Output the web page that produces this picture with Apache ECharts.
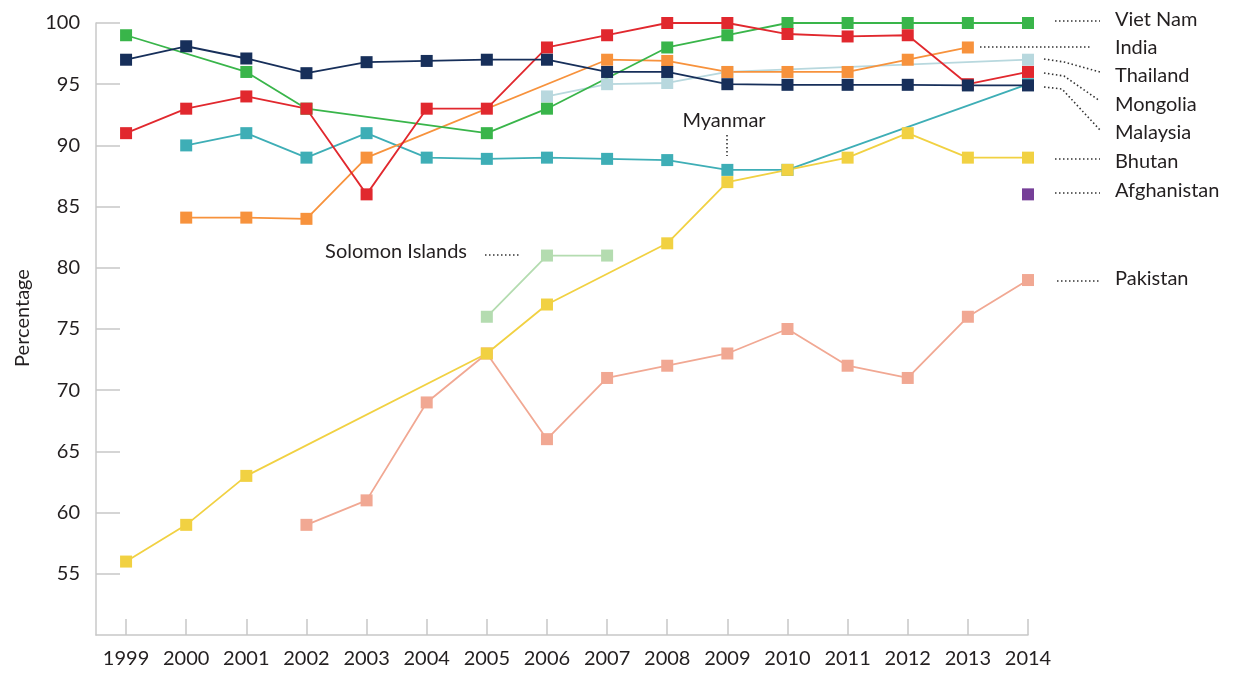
<!DOCTYPE html>
<html>
<head>
<meta charset="utf-8">
<script src="https://cdn.jsdelivr.net/npm/echarts@6/dist/echarts.min.js"></script>
<style>
  html, body { margin: 0; padding: 0; background: #fff; }
  #chart { width: 1236px; height: 675px; }
</style>
</head>
<body>
<div id="chart"></div>
<script>
const years = [1999, 2000, 2001, 2002, 2003, 2004, 2005, 2006, 2007, 2008, 2009, 2010, 2011, 2012, 2013, 2014]
const yTicks = [55, 60, 65, 70, 75, 80, 85, 90, 95, 100]

// values per country, one per year (null = no data)
const pakistan = [null, null, null, 59, 61, 69, 73, 66, 71, 72, 73, 75, 72, 71, 76, 79]
const solomonIslands = [null, null, null, null, null, null, 76, 81, 81, null, null, null, null, null, null, null]
const afghanistan = [null, null, null, null, null, null, null, null, null, null, null, null, null, null, null, 86]
const myanmar = [null, 90, 91, 89, 91, 89, 88.9, 89, 88.9, 88.8, 88, 88, null, null, null, 95]
const bhutan = [56, 59, 63, null, null, null, 73, 77, null, 82, 87, 88, 89, 91, 89, 89]
const thailand = [null, null, null, null, null, null, null, 94, 95, 95.1, 96, null, null, null, null, 97]
const india = [null, 84.1, 84.1, 84, 89, null, null, null, 97, 96.9, 96, 96, 96, 97, 98, null]
const vietNam = [99, null, 96, 93, null, null, 91, 93, null, 98, 99, 100, 100, 100, 100, 100]
const mongolia = [91, 93, 94, 93, 86, 93, 93, 98, 99, 100, 100, 99.1, 98.9, 99, 95, 96]
const malaysia = [97, 98.1, 97.1, 95.9, 96.8, 96.9, 97, 97, 96, 96, 95, 94.95, 94.95, 94.95, 94.9, 94.9]

const countries = [
  { name: 'Pakistan', values: pakistan, color: '#f1a893' },
  { name: 'Solomon Islands', values: solomonIslands, color: '#b4dcb0' },
  { name: 'Afghanistan', values: afghanistan, color: '#763f98' },
  { name: 'Myanmar', values: myanmar, color: '#3eaeb6' },
  { name: 'Bhutan', values: bhutan, color: '#f1d142' },
  { name: 'Thailand', values: thailand, color: '#b8d8de' },
  { name: 'India', values: india, color: '#f7923c' },
  { name: 'Viet Nam', values: vietNam, color: '#39b54a' },
  { name: 'Mongolia', values: mongolia, color: '#e1282e' },
  { name: 'Malaysia', values: malaysia, color: '#172f5a' }
]

const font = 'Lato'
const textColor = '#231f20'
const axisColor = '#c8c8c8'
const dotted = { stroke: '#333', lineWidth: 1.6, lineDash: [1.5, 2.5], fill: null }

function label (text, x, y, align) {
  return {
    type: 'text',
    x: x,
    y: y,
    silent: true,
    style: { text: text, fill: textColor, font: '20px ' + font, align: align || 'left', verticalAlign: 'middle' }
  }
}
function leader (points) {
  return { type: 'polyline', silent: true, shape: { points: points }, style: dotted }
}

const chart = echarts.init(document.getElementById('chart'))
chart.setOption({
  animation: false,
  textStyle: { fontFamily: font },
  grid: { left: 96, right: 208, top: 23, bottom: 40 },
  xAxis: {
    type: 'value',
    min: 1998.5,
    max: 2014,
    splitLine: { show: false },
    axisLine: { lineStyle: { color: axisColor, width: 1.5 } },
    axisTick: { inside: true, length: 16, customValues: years, lineStyle: { color: axisColor, width: 1.5 } },
    axisLabel: { customValues: years, color: textColor, fontSize: 20, margin: 14, formatter: v => String(v) }
  },
  yAxis: {
    type: 'value',
    min: 50,
    max: 100,
    splitLine: { show: false },
    axisLine: { show: true, lineStyle: { color: axisColor, width: 1.5 } },
    axisTick: { show: true, inside: true, length: 24, customValues: yTicks, lineStyle: { color: axisColor, width: 1.5 } },
    axisLabel: { customValues: yTicks, color: textColor, fontSize: 20, margin: 16 }
  },
  series: countries.map(c => ({
    name: c.name,
    type: 'line',
    symbol: 'rect',
    symbolSize: 12,
    color: c.color,
    lineStyle: { width: 1.8, color: c.color },
    itemStyle: { color: c.color },
    emphasis: { disabled: true },
    data: years.map((y, i) => [y, c.values[i]]).filter(d => d[1] !== null)
  })),
  graphic: [
    {
      type: 'text', x: 23, y: 318, rotation: Math.PI / 2, silent: true,
      style: { text: 'Percentage', fill: textColor, font: '20px ' + font, align: 'center', verticalAlign: 'middle' }
    },
    leader([[1055, 21], [1100, 21]]), label('Viet Nam', 1115, 20),
    leader([[980, 47], [1090, 47]]), label('India', 1115, 48),
    leader([[1044, 59], [1064, 62], [1100, 72]]), label('Thailand', 1115, 76),
    leader([[1044, 73], [1064, 76], [1100, 101]]), label('Mongolia', 1115, 105),
    leader([[1044, 87], [1062, 89], [1100, 130]]), label('Malaysia', 1115, 133),
    leader([[1055, 159], [1100, 159]]), label('Bhutan', 1115, 162),
    leader([[1055, 193], [1100, 193]]), label('Afghanistan', 1115, 191),
    leader([[1057, 281], [1100, 281]]), label('Pakistan', 1115, 279),
    leader([[485, 255], [520, 255]]), label('Solomon Islands', 467, 252, 'right'),
    leader([[727, 135], [727, 156]]), label('Myanmar', 724, 121, 'center')
  ]
})
</script>
</body>
</html>
